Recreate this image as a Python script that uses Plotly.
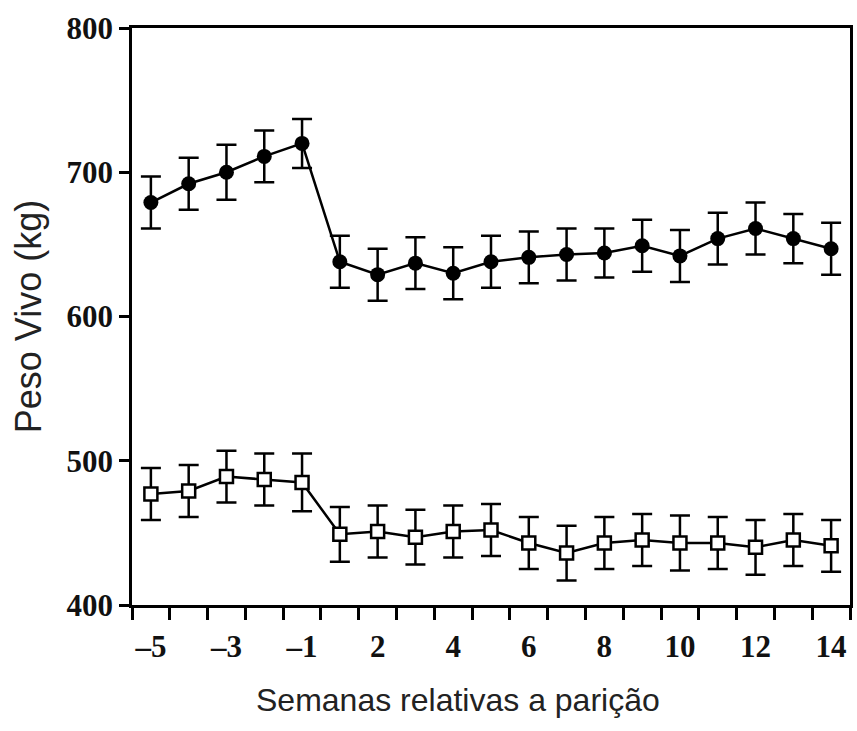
import plotly.graph_objects as go

# ---- data ----
weeks = [-5, -4, -3, -2, -1, 1, 2, 3, 4, 5, 6, 7, 8, 9, 10, 11, 12, 13, 14]
peso_circ = [679, 692, 700, 711, 720, 638, 629, 637, 630, 638, 641, 643, 644, 649, 642, 654, 661, 654, 647]
se_circ = [18, 18, 19, 18, 17, 18, 18, 18, 18, 18, 18, 18, 17, 18, 18, 18, 18, 17, 18]
peso_sq = [477, 479, 489, 487, 485, 449, 451, 447, 451, 452, 443, 436, 443, 445, 443, 443, 440, 445, 441]
se_sq = [18, 18, 18, 18, 20, 19, 18, 19, 18, 18, 18, 19, 18, 18, 19, 18, 19, 18, 18]
y_ticks = [400, 500, 600, 700, 800]
x_label_weeks = [-5, -3, -1, 2, 4, 6, 8, 10, 12, 14]
y_title = "Peso Vivo (kg)"
x_title = "Semanas relativas a parição"

# category positions
xpos = list(range(len(weeks)))
tickvals = [weeks.index(w) for w in x_label_weeks]
ticktext = [("\u2013" + str(-w)) if w < 0 else str(w) for w in x_label_weeks]
boundaries = [i - 0.5 for i in range(len(weeks) + 1)]

fig = go.Figure()
fig.add_trace(go.Scatter(
    x=xpos, y=peso_circ, mode="lines+markers",
    line=dict(color="black", width=2.5),
    marker=dict(symbol="circle", size=15, color="black"),
    error_y=dict(type="data", array=se_circ, color="black", thickness=2.5, width=10),
    showlegend=False,
))
fig.add_trace(go.Scatter(
    x=xpos, y=peso_sq, mode="lines+markers",
    line=dict(color="black", width=2.5),
    marker=dict(symbol="square", size=13, color="white", line=dict(color="black", width=2.5)),
    error_y=dict(type="data", array=se_sq, color="black", thickness=2.5, width=10),
    showlegend=False,
))

serif = dict(family="Liberation Serif", size=31, color="#111", weight="bold")

fig.update_layout(
    width=857, height=731,
    margin=dict(l=132, r=4, t=28, b=126),
    paper_bgcolor="white", plot_bgcolor="white",
    xaxis=dict(
        range=[-0.5, len(weeks) - 0.5],
        tickmode="array", tickvals=tickvals, ticktext=ticktext,
        ticks="", showgrid=False, zeroline=False,
        showline=True, linecolor="black", linewidth=2.5, mirror=True,
        tickfont=serif, ticklabelstandoff=12,
        minor=dict(tickmode="array", tickvals=boundaries, ticks="outside",
                   ticklen=12, tickwidth=2.5, tickcolor="black", showgrid=False),
    ),
    yaxis=dict(
        range=[400, 800],
        tickmode="array", tickvals=y_ticks,
        ticks="outside", ticklen=10, tickwidth=2.5, tickcolor="black",
        showgrid=False, zeroline=False,
        showline=True, linecolor="black", linewidth=2.5, mirror=True,
        tickfont=serif,
        title=dict(text=y_title, font=dict(family="Liberation Sans", size=36, color="#222"),
                   standoff=14),
    ),
    annotations=[dict(
        text=x_title, xref="paper", yref="paper", x=0.4535, y=-0.165,
        xanchor="center", yanchor="middle", showarrow=False,
        font=dict(family="Liberation Sans", size=32, color="#222"),
    )],
)

fig.write_html("out.html")
